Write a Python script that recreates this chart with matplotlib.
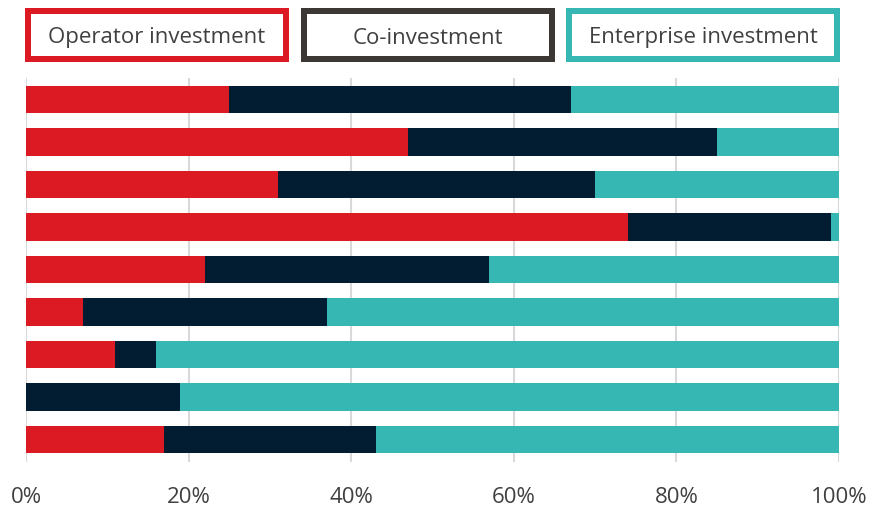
import matplotlib
matplotlib.use("Agg")
import matplotlib.pyplot as plt
from matplotlib.patches import Rectangle

series_names = ["Operator investment", "Co-investment", "Enterprise investment"]
operator = [25, 47, 31, 74, 22, 7, 11, 0, 17]
co_inv = [42, 38, 39, 25, 35, 30, 5, 19, 26]
enterprise = [33, 15, 30, 1, 43, 63, 84, 81, 57]
tick_vals = [0, 20, 40, 60, 80, 100]
tick_labels = ["0%", "20%", "40%", "60%", "80%", "100%"]

colors = ["#DC1A24", "#021C32", "#36B7B4"]
border_colors = ["#DC1A24", "#3B3836", "#36B7B4"]
text_color = "#404040"

W, H = 876, 508
fig = plt.figure(figsize=(W / 100, H / 100), dpi=100)
plt.rcParams['font.family'] = ['Open Sans', 'DejaVu Sans']

ax = fig.add_axes([26 / W, 1 - 462 / H, (839 - 26) / W, (462 - 78) / H])
n = len(operator)
ys = list(range(n))
left = [0] * n
for vals, c in zip([operator, co_inv, enterprise], colors):
    ax.barh(ys, vals, left=left, height=0.647, color=c, edgecolor='none', zorder=3)
    left = [l + v for l, v in zip(left, vals)]

ax.set_xlim(0, 100)
ax.set_ylim(8.53, -0.51)
ax.set_xticks(tick_vals)
ax.set_xticklabels(tick_labels, fontsize=16, color=text_color)
ax.set_yticks([])
ax.tick_params(axis='x', length=0, pad=18)
for s in ax.spines.values():
    s.set_visible(False)
ax.grid(axis='x', color='#D9D9D9', linewidth=1.5, zorder=0)

# legend boxes
boxes = [(25, 289), (301, 555), (566, 840)]
y0, y1 = 8, 62
lw_px = 6
for (x0, x1), name, bc in zip(boxes, series_names, border_colors):
    r = Rectangle(((x0 + lw_px / 2) / W, 1 - (y1 - lw_px / 2) / H),
                  (x1 - x0 - lw_px) / W, (y1 - y0 - lw_px) / H,
                  transform=fig.transFigure, facecolor='white', edgecolor=bc,
                  linewidth=lw_px * 0.72)
    fig.patches.append(r)
    fig.text((x0 + x1) / 2 / W, 1 - 35.5 / H, name, ha='center', va='center_baseline',
             fontsize=16, color=text_color)

fig.savefig("out.png", dpi=100)
